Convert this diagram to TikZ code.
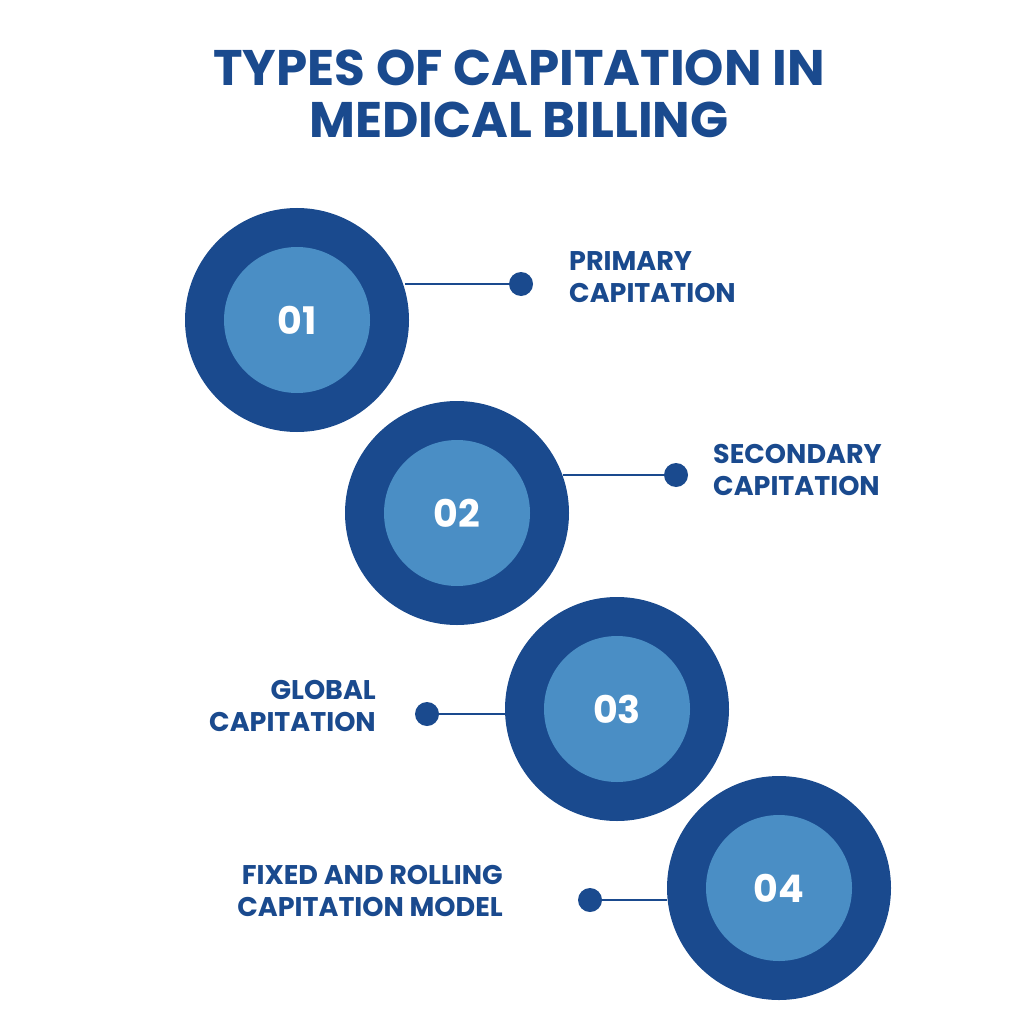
\documentclass[tikz,border=0pt]{standalone}
\usepackage{fontspec}
\setmainfont{Poppins}
\definecolor{dk}{HTML}{1A4A8E}
\definecolor{lt}{HTML}{4A8EC5}
\begin{document}
\begin{tikzpicture}[x=1pt,y=-1pt,
  outer/.style={circle,fill=dk,minimum size=224pt,inner sep=0pt},
  inner/.style={circle,fill=lt,minimum size=146pt,inner sep=0pt,text=white,font=\bfseries\fontsize{38}{40}\selectfont},
  dot/.style={circle,fill=dk,minimum size=24pt,inner sep=0pt},
  conn/.style={dk,line width=2.5pt},
  lab/.style={text=dk,font=\bfseries\fontsize{27}{32}\selectfont,inner sep=0pt}]
\useasboundingbox[fill=white] (0,0) rectangle (1024,1024);
\node[text=dk,font=\bfseries\fontsize{50}{52}\selectfont,align=center] (title) at (519,94) {TYPES OF CAPITATION IN\\MEDICAL BILLING};
\foreach \n/\x/\y in {1/297/320,2/457/513,3/617/709,4/779/888}{
  \node[outer] (o\n) at (\x,\y) {};
  \node[inner] (i\n) at (\x,\y) {0\n};
}
\node[dot] (d1) at (521,284) {};
\node[dot] (d2) at (676,475) {};
\node[dot] (d3) at (427,714) {};
\node[dot] (d4) at (590,900) {};
\coordinate (c1) at (405,284); \coordinate (c2) at (563,475);
\coordinate (c3) at (505,714); \coordinate (c4) at (667,900);
\draw[conn] (c1) -- (d1); \draw[conn] (c2) -- (d2);
\draw[conn] (d3) -- (c3); \draw[conn] (d4) -- (c4);
\node[lab,anchor=west,align=left] (l1) at (569,277) {PRIMARY\\CAPITATION};
\node[lab,anchor=west,align=left] (l2) at (713,470) {SECONDARY\\CAPITATION};
\node[lab,anchor=east,align=right] (l3) at (376,706) {GLOBAL\\CAPITATION};
\node[lab,anchor=east,align=right] (l4) at (503,891) {FIXED AND ROLLING\\CAPITATION MODEL};
\end{tikzpicture}
\end{document}
